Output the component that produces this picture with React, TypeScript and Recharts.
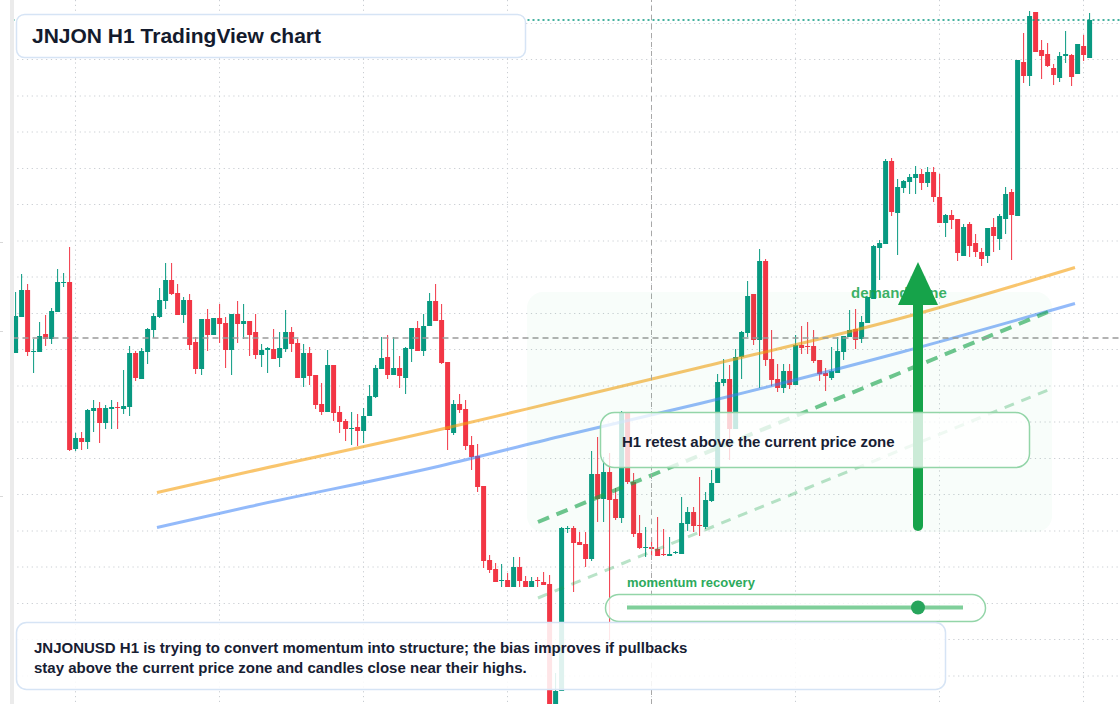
import { ComposedChart, Bar, Line, XAxis, YAxis, CartesianGrid, ReferenceLine } from "recharts";

// JNJONUSD H1 candles, oldest first
const open = [
  152.94, 153.66, 154.2, 152.96, 152.96, 153.32, 153.22, 153.76, 154.34, 154.36,
  151.02, 151.24, 151.16, 151.78, 151.84, 151.54, 151.82, 151.86, 151.82, 151.86,
  152.94, 152.42, 152.96, 153.4, 153.66, 153.98, 154.4, 154.14, 153.7, 154.0,
  153.16, 152.62, 153.62, 153.3, 153.64, 153.54, 153.0, 153.72, 153.52, 153.58,
  153.36, 152.9, 153.0, 153.02, 152.84, 153.02, 153.36, 153.14, 152.44, 152.94,
  152.5, 151.92, 151.76, 152.7, 151.76, 151.58, 151.42, 151.46, 151.38, 151.68,
  152.06, 152.62, 152.86, 152.5, 152.64, 152.44, 153.02, 153.44, 152.98, 153.48,
  153.98, 153.6, 152.76, 151.34, 151.92, 151.82, 151.1, 150.88, 150.28, 148.8,
  148.62, 148.38, 148.4, 148.26, 148.66, 148.38, 148.26, 148.4, 148.36, 148.32,
  145.76, 146.18, 149.42, 149.44, 149.16, 149.12, 148.82, 150.52, 150.02, 150.56,
  150.02, 149.64, 151.74, 150.36, 149.34, 149.04, 149.06, 149.02, 148.92, 148.88,
  148.94, 148.92, 149.52, 149.76, 149.5, 149.46, 149.98, 150.34, 152.34, 152.42,
  151.42, 152.86, 153.34, 154.12, 153.2, 154.78, 152.82, 152.42, 152.24, 152.58,
  152.3, 153.1, 153.08, 153.08, 152.8, 152.54, 152.44, 152.54, 152.96, 153.26,
  153.42, 153.22, 153.54, 154.02, 155.04, 155.12, 156.78, 155.74, 156.24, 156.36,
  156.44, 156.52, 156.34, 156.56, 156.06, 155.54, 155.7, 155.62, 154.88, 155.52,
  155.14, 154.96, 154.88, 155.46, 155.22, 155.62, 156.16, 155.68, 158.76, 158.48,
  159.76, 159.0, 158.92, 158.64, 158.44, 158.88, 158.9, 158.52, 159.08, 158.84,
];
const high = [
  154.16, 154.52, 154.32, 153.22, 153.56, 153.7, 153.84, 154.62, 154.54, 155.06,
  151.34, 151.36, 151.82, 152.0, 151.96, 151.9, 152.0, 151.96, 152.6, 153.08,
  152.98, 153.04, 153.44, 153.74, 154.24, 154.74, 154.74, 154.32, 154.06, 154.12,
  153.26, 153.62, 153.82, 153.64, 153.92, 153.66, 153.72, 153.98, 153.92, 153.58,
  153.72, 153.12, 153.06, 153.42, 153.36, 153.8, 153.46, 153.22, 153.12, 153.06,
  152.5, 152.34, 153.0, 152.7, 151.88, 151.62, 151.76, 151.72, 151.84, 152.3,
  152.7, 153.26, 153.3, 153.26, 152.88, 153.06, 153.44, 153.58, 153.72, 154.14,
  154.32, 153.92, 152.76, 152.0, 152.12, 152.0, 151.28, 151.12, 150.28, 148.9,
  148.74, 148.72, 148.54, 148.86, 148.86, 148.48, 148.46, 148.46, 148.56, 148.5,
  146.54, 149.46, 149.48, 149.48, 149.36, 149.36, 150.98, 151.26, 150.86, 150.94,
  150.24, 151.78, 151.76, 150.54, 149.7, 149.46, 149.26, 149.66, 149.42, 149.26,
  148.98, 150.06, 149.86, 149.86, 150.46, 150.16, 150.6, 152.52, 152.82, 152.7,
  153.02, 153.38, 154.38, 154.12, 155.02, 154.82, 153.4, 152.72, 152.72, 152.72,
  153.3, 153.48, 153.56, 153.4, 152.8, 152.64, 153.06, 153.26, 153.28, 153.8,
  153.82, 153.68, 154.06, 155.1, 155.2, 156.82, 156.84, 156.42, 156.4, 156.52,
  156.68, 156.62, 156.66, 156.66, 156.52, 155.72, 155.8, 155.62, 155.52, 155.56,
  155.32, 155.04, 155.44, 155.64, 155.72, 156.26, 156.22, 158.8, 159.34, 159.78,
  159.76, 159.2, 159.14, 158.72, 158.96, 159.38, 158.92, 159.12, 159.3, 159.74,
];
const low = [
  152.94, 153.66, 152.88, 152.54, 152.96, 153.08, 153.12, 153.76, 154.26, 150.98,
  150.98, 151.0, 151.02, 151.36, 151.14, 151.42, 151.42, 151.42, 151.72, 151.68,
  152.38, 152.42, 152.72, 153.24, 153.64, 153.82, 154.1, 153.7, 153.54, 153.0,
  152.52, 152.5, 152.98, 153.3, 153.14, 152.64, 152.5, 153.14, 153.22, 152.88,
  152.82, 152.66, 152.54, 152.82, 152.66, 152.96, 152.96, 152.44, 152.26, 152.3,
  151.82, 151.7, 151.76, 151.58, 151.34, 151.18, 151.1, 151.08, 151.14, 151.68,
  152.04, 152.62, 152.42, 152.5, 152.24, 152.12, 152.76, 152.98, 152.88, 153.48,
  153.58, 152.72, 151.0, 151.3, 151.74, 151.0, 150.6, 150.16, 148.64, 148.54,
  148.36, 148.26, 148.26, 148.26, 148.26, 148.26, 148.26, 148.26, 148.3, 145.56,
  145.6, 146.18, 149.34, 148.16, 149.1, 148.66, 148.78, 149.56, 149.56, 147.2,
  149.6, 149.54, 150.32, 149.26, 149.02, 148.86, 148.88, 148.88, 148.88, 148.88,
  148.92, 148.92, 149.38, 149.36, 149.28, 149.42, 149.96, 150.34, 152.28, 150.8,
  151.42, 152.42, 153.26, 153.1, 152.24, 152.68, 152.28, 152.16, 152.14, 152.22,
  152.3, 152.92, 152.92, 152.74, 152.38, 152.18, 152.4, 152.54, 152.8, 153.26,
  153.02, 153.14, 153.54, 154.02, 154.4, 155.12, 155.68, 154.9, 156.14, 156.12,
  156.12, 156.2, 156.26, 155.96, 155.54, 155.26, 155.42, 154.78, 154.88, 154.86,
  154.86, 154.68, 154.74, 154.96, 155.0, 155.32, 154.8, 155.68, 158.34, 158.28,
  158.96, 158.42, 158.66, 158.3, 158.36, 158.74, 158.28, 158.52, 158.78, 158.84,
];
const close = [
  153.68, 154.2, 152.96, 152.98, 153.28, 153.22, 153.78, 154.36, 154.36, 151.0,
  151.24, 151.16, 151.8, 151.84, 151.54, 151.84, 151.86, 151.84, 151.88, 152.94,
  152.44, 152.98, 153.42, 153.68, 154.0, 154.4, 154.12, 153.7, 154.0, 153.1,
  152.62, 153.62, 153.3, 153.64, 153.52, 153.0, 153.72, 153.52, 153.58, 153.3,
  152.9, 153.0, 153.04, 152.82, 153.04, 153.36, 153.12, 152.44, 152.94, 152.48,
  151.9, 151.76, 152.7, 151.74, 151.56, 151.42, 151.44, 151.38, 151.68, 152.08,
  152.64, 152.84, 152.5, 152.64, 152.48, 153.04, 153.44, 152.98, 153.48, 153.98,
  153.58, 152.74, 151.4, 151.92, 151.8, 151.08, 150.86, 150.26, 148.78, 148.6,
  148.36, 148.4, 148.26, 148.66, 148.38, 148.26, 148.38, 148.38, 148.3, 145.76,
  146.18, 149.44, 149.44, 149.14, 149.1, 148.82, 150.52, 150.02, 150.56, 150.0,
  149.64, 151.74, 150.36, 149.32, 149.04, 149.06, 149.02, 148.88, 148.9, 148.92,
  148.96, 149.54, 149.76, 149.48, 149.48, 150.0, 150.34, 152.36, 152.42, 151.42,
  152.86, 153.36, 154.08, 153.2, 154.78, 152.8, 152.4, 152.24, 152.58, 152.3,
  153.1, 153.04, 153.06, 152.78, 152.52, 152.48, 152.58, 152.98, 153.28, 153.4,
  153.2, 153.56, 154.06, 155.08, 155.14, 156.78, 155.76, 156.26, 156.38, 156.46,
  156.52, 156.34, 156.56, 156.06, 155.54, 155.7, 155.6, 154.94, 155.46, 155.08,
  154.96, 154.82, 155.44, 155.28, 155.68, 156.12, 155.7, 158.8, 158.48, 159.68,
  158.96, 158.88, 158.68, 158.5, 158.88, 158.92, 158.46, 159.12, 158.9, 159.6,
];

// empty slots to the right of the last candle
const rightPad = 5;

// drawn trend lines (bar index, price)
const trendIdx = [23.58, 39.08, 70.75, 90.75, 114.08, 147.42, 176.58];
const resistance = [150.15, 150.57, 151.41, 151.98, 152.65, 153.63, 154.65];
const support = [149.45, 149.87, 150.68, 151.27, 151.93, 152.95, 153.93];
const channelIdx = [87.08, 172.08];
const channelUpper = [149.56, 153.76];
const channelLower = [148.04, 152.2];

const gridPrices = [
  159.53, 158.81, 158.08, 157.36, 156.63, 155.91, 155.18, 154.46, 153.73, 153.01,
  152.28, 151.56, 150.83, 150.11, 149.38, 148.66, 147.93, 147.21, 146.48,
];
const gridBars = [10, 34, 58, 82, 106, 130, 154, 178];
const lastPrice = 159.6;
const crossPrice = 153.24;
const crossBar = 106;

const UP = "#089981";
const DOWN = "#f23645";
const GREEN = "#16a34a";
const FONT = '"Liberation Sans", Arial, sans-serif';

const rows = Array.from({ length: open.length + rightPad }, (_, i) =>
  i < open.length
    ? { i, o: open[i], h: high[i], l: low[i], c: close[i], range: [low[i], high[i]] }
    : { i }
);

const toRows = (xs: number[], vs: number[]) => xs.map((t, k) => ({ t, v: vs[k] }));

function Candle(props: any) {
  const { x, y, width, height, payload } = props;
  if (!payload || payload.h == null) return null;
  const top = Math.min(y, y + height);
  const span = Math.abs(height);
  const k = payload.h > payload.l ? span / (payload.h - payload.l) : 0;
  const py = (v: number) => top + (payload.h - v) * k;
  const cx = x + width / 2;
  const up = payload.c >= payload.o;
  const color = up ? UP : DOWN;
  const bTop = py(Math.max(payload.o, payload.c));
  const bH = Math.max(1, py(Math.min(payload.o, payload.c)) - bTop);
  return (
    <g>
      <rect x={cx - 0.5} y={top} width={1} height={Math.max(1, span)} fill={color} />
      <rect x={cx - 2.5} y={bTop} width={5} height={bH} fill={color} />
    </g>
  );
}

function Overlay() {
  return (
    <svg width={1120} height={704} style={{ position: "absolute", left: 0, top: 0, pointerEvents: "none" }}>
      <rect x={10} y={0} width={4} height={704} fill="#ebebeb" />
      {[242, 331, 496].map((y) => (
        <rect key={y} x={0} y={y} width={3} height={1} fill="#d8d8d8" />
      ))}

      {/* demand zone */}
      <rect x={527} y={292} width={525} height={240} rx={16} fill="rgba(34,197,94,0.03)" />
      <text x={851} y={298} fontFamily={FONT} fontSize={15} fontWeight={700} fill={GREEN} fillOpacity={0.85}>
        demand zone
      </text>

      {/* arrow */}
      <line x1={918} y1={526} x2={918} y2={300} stroke={GREEN} strokeWidth={10} strokeLinecap="round" />
      <polygon points="918,262 898,305 938,305" fill={GREEN} />

      {/* retest callout */}
      <rect x={600.5} y={412.5} width={429} height={55} rx={14} fill="rgba(255,255,255,0.78)" stroke="#93d5a8" strokeWidth={1.5} />
      <text x={622} y={447} fontFamily={FONT} fontSize={15} fontWeight={700} fill="#172033">
        H1 retest above the current price zone
      </text>

      {/* momentum slider */}
      <text x={627} y={587} fontFamily={FONT} fontSize={13} fontWeight={700} fill="#2daa5c">
        momentum recovery
      </text>
      <rect x={605.5} y={594.5} width={380} height={27} rx={13.5} fill="rgba(255,255,255,0.8)" stroke="#93d5a8" strokeWidth={1.5} />
      <line x1={627} y1={607.5} x2={963} y2={607.5} stroke="#7fcf9a" strokeWidth={4} />
      <circle cx={918} cy={607.5} r={7} fill="#27a55c" />

      {/* note */}
      <rect x={16.5} y={622.5} width={929} height={67} rx={10} fill="rgba(255,255,255,0.87)" stroke="#d6e4f5" strokeWidth={1.5} />
      <text fontFamily={FONT} fontSize={15} fontWeight={700} fill="#172033">
        <tspan x={34} y={653}>
          JNJONUSD H1 is trying to convert momentum into structure; the bias improves if pullbacks
        </tspan>
        <tspan x={34} y={673}>
          stay above the current price zone and candles close near their highs.
        </tspan>
      </text>

      {/* title */}
      <rect x={16.5} y={14.5} width={509} height={43} rx={8} fill="#ffffff" stroke="#d6e4f5" strokeWidth={1.5} />
      <text x={32} y={43} fontFamily={FONT} fontSize={21} fontWeight={700} fill="#141b2d">
        JNJON H1 TradingView chart
      </text>
    </svg>
  );
}

export default function App() {
  return (
    <div style={{ position: "fixed", left: 0, top: 0, width: 1120, height: 704, overflow: "hidden", background: "#fff" }}>
      <div style={{ position: "absolute", left: 0, top: 0 }}>
        <ComposedChart width={1130} height={704} data={rows} margin={{ top: 0, right: 7.5, bottom: 0, left: 12.5 }}>
          <XAxis dataKey="i" type="category" hide />
          <XAxis xAxisId="n" dataKey="t" type="number" domain={[-0.5, 184.5]} ticks={gridBars} allowDataOverflow hide />
          <YAxis type="number" domain={[145.92, 160]} ticks={gridPrices} allowDataOverflow hide />
          <CartesianGrid
            xAxisId="n"
            stroke="#c9cdd2"
            strokeDasharray="1.2 3.6"
            horizontalValues={gridPrices}
            verticalValues={gridBars}
          />
          <Bar dataKey="range" shape={Candle} isAnimationActive={false} />
          <Line xAxisId="n" data={toRows(trendIdx, resistance)} dataKey="v" type="monotone" stroke="#f59e0b" strokeOpacity={0.6} strokeWidth={3} dot={false} isAnimationActive={false} />
          <Line xAxisId="n" data={toRows(trendIdx, support)} dataKey="v" type="monotone" stroke="#3b82f6" strokeOpacity={0.55} strokeWidth={3} dot={false} isAnimationActive={false} />
          <Line xAxisId="n" data={toRows(channelIdx, channelUpper)} dataKey="v" stroke={GREEN} strokeOpacity={0.62} strokeWidth={4} strokeDasharray="12 8" dot={false} isAnimationActive={false} />
          <Line xAxisId="n" data={toRows(channelIdx, channelLower)} dataKey="v" stroke={GREEN} strokeOpacity={0.3} strokeWidth={3} strokeDasharray="10 8" dot={false} isAnimationActive={false} />
          <ReferenceLine y={lastPrice} stroke={UP} strokeDasharray="2 3" strokeWidth={1.5} />
          <ReferenceLine y={crossPrice} stroke="#9a9a9a" strokeDasharray="6 4" strokeWidth={1.5} />
          <ReferenceLine xAxisId="n" x={crossBar} stroke="#a8a8a8" strokeDasharray="5 4" strokeWidth={1} />
        </ComposedChart>
      </div>
      <Overlay />
    </div>
  );
}
